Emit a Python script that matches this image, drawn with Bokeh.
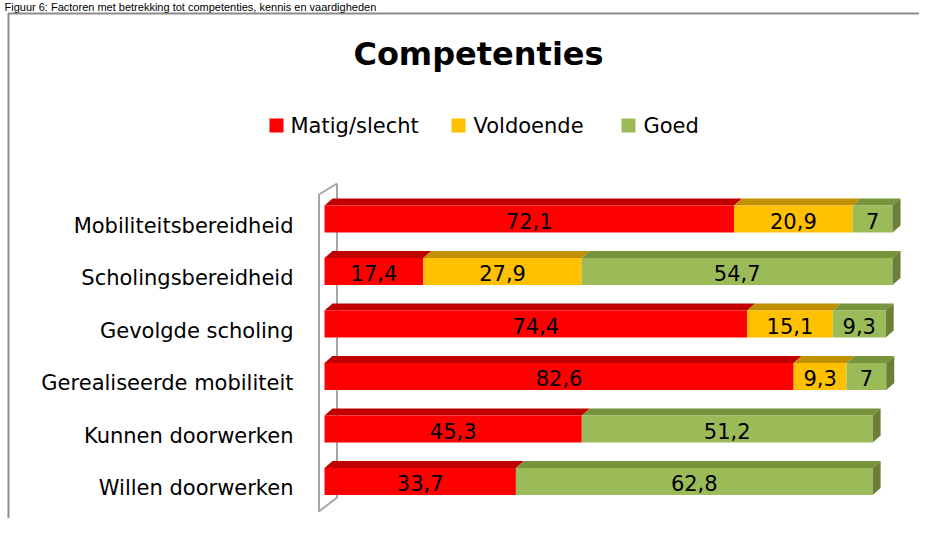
from bokeh.plotting import figure
from bokeh.models import Range1d, ColumnDataSource
from bokeh.core.properties import value
from bokeh.embed import file_html
from bokeh.resources import INLINE

# ---------------- data ----------------
categories = ["Mobiliteitsbereidheid", "Scholingsbereidheid", "Gevolgde scholing",
              "Gerealiseerde mobiliteit", "Kunnen doorwerken", "Willen doorwerken"]
series_names = ["Matig/slecht", "Voldoende", "Goed"]
matig = [72.1, 17.4, 74.4, 82.6, 45.3, 33.7]
voldoende = [20.9, 27.9, 15.1, 9.3, 0, 0]
goed = [7, 54.7, 9.3, 7, 51.2, 62.8]
title_text = "Competenties"
caption_text = "Figuur 6: Factoren met betrekking tot competenties, kennis en vaardigheden"

# ---------------- styling ----------------
front_cols = ["#FF0000", "#FFC000", "#9BBB59"]
top_cols = ["#C00000", "#C09000", "#77933C"]
side_col = "#6B7F37"
FONT = "DejaVu Sans"

W, H = 919, 518
# pixel of value 0 and px per unit; pixel of first category and slot size
X0, XS = 324.0, 5.68
Y0, YS = 218.5, 52.5

def dx(px):
    return px / XS

def dy(px):
    return px / YS

def wx(X):  # pixel x -> data x
    return (X - X0) / XS

def wy(Y):  # pixel y -> data y
    return (Y - Y0) / YS

p = figure(width=W, height=H, output_backend="svg", toolbar_location=None,
           x_range=Range1d(wx(0), wx(W)), y_range=Range1d(wy(H), wy(0)),
           min_border=0, min_border_left=0, min_border_right=0,
           min_border_top=0, min_border_bottom=0)
p.axis.visible = False
p.grid.visible = False
p.outline_line_color = None
p.background_fill_color = "white"
p.border_fill_color = "white"

# outer box border
p.line(x=[wx(8), wx(8), wx(W + 5)], y=[wy(H + 5), wy(13), wy(13)],
       line_color="#8C8C8C", line_width=2)

# caption (cut off in the reference; kept fully visible here)
p.text(x=[wx(4)], y=[wy(6)], text=[caption_text], text_font=value("Liberation Sans"),
       text_font_size="11px", text_baseline="middle", text_align="left",
       text_color="#000000")

# title
p.text(x=[wx(478)], y=[wy(53)], text=[title_text], text_font=value(FONT),
       text_font_size="32px", text_font_style="bold", text_baseline="middle",
       text_align="center", text_color="#000000")

# legend (manual)
leg_sq_x = [269, 451, 621]
leg_tx_x = [290, 473, 643]
for i, name in enumerate(series_names):
    p.quad(left=[wx(leg_sq_x[i])], right=[wx(leg_sq_x[i] + 14)],
           top=[wy(118)], bottom=[wy(132)], fill_color=front_cols[i], line_color=None)
    p.text(x=[wx(leg_tx_x[i])], y=[wy(125)], text=[name], text_font=value(FONT),
           text_font_size="21px", text_baseline="middle", text_align="left",
           text_color="#000000")

# 3D wall of the category axis
wall_col = "#A6A6A6"
p.line(x=[wx(336.5), wx(318.5), wx(318.5), wx(336.5), wx(336.5)],
       y=[wy(183), wy(194), wy(511), wy(497), wy(183)],
       line_color=wall_col, line_width=2)

# bars
bar_h = dy(27)
ddx, ddy = dx(8), dy(7)
series = [matig, voldoende, goed]
n = len(categories)
for k in range(n):
    left = 0.0
    last_idx = max(i for i in range(3) if series[i][k] > 0)
    for i in range(3):
        v = series[i][k]
        if v <= 0:
            continue
        right = left + v
        top = k - bar_h / 2
        bot = k + bar_h / 2
        # top face
        p.patch(x=[left, right, right + ddx, left + ddx],
                y=[top, top, top - ddy, top - ddy],
                fill_color=top_cols[i], line_color=None)
        # front face
        p.quad(left=[left], right=[right], top=[top], bottom=[bot],
               fill_color=front_cols[i], line_color=None)
        if i == last_idx:
            p.patch(x=[right, right + ddx, right + ddx, right],
                    y=[top, top - ddy, bot - ddy, bot],
                    fill_color=side_col, line_color=None)
        lbl = ("%g" % v).replace(".", ",")
        p.text(x=[(left + right) / 2], y=[k + dy(1.5)], text=[lbl],
               text_font=value(FONT), text_font_size="21px", text_baseline="middle",
               text_align="center", text_color="#000000")
        left = right

# category labels
src = ColumnDataSource(dict(x=[wx(293)] * n, y=[k + dy(6.5) for k in range(n)], t=categories))
p.text(x="x", y="y", text="t", source=src, text_font=value(FONT), text_font_size="21px",
       text_baseline="middle", text_align="right", text_color="#000000")

open("out.html", "w").write(file_html(p, INLINE))
